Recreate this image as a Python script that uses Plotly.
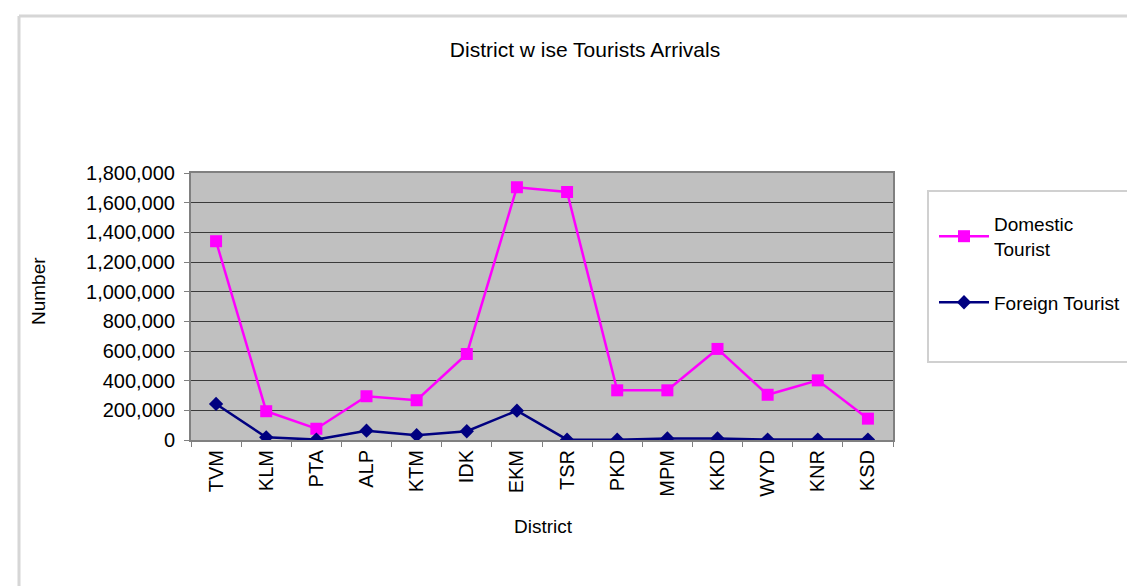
import plotly.graph_objects as go

districts = ["TVM", "KLM", "PTA", "ALP", "KTM", "IDK", "EKM", "TSR", "PKD", "MPM", "KKD", "WYD", "KNR", "KSD"]
domestic = [1340000, 194000, 76000, 295000, 268000, 580000, 1704000, 1672000, 335000, 335000, 614000, 305000, 402000, 144000]
foreign = [243000, 18000, 3000, 63000, 32000, 59000, 198000, 2000, 2000, 10000, 10000, 3000, 3000, 3000]

W, H = 1135, 586
L, R, T, B = 183, 885, 165, 432
pw, ph = R - L, B - T

def px(x):
    return (x - L) / pw

def py(y):
    return (B - y) / ph

FONT = "Liberation Sans, Arial, sans-serif"

fig = go.Figure()
fig.add_trace(go.Scatter(
    x=districts, y=domestic, name="Domestic<br>Tourist", mode="lines+markers",
    line=dict(color="#ff00ff", width=2.5),
    marker=dict(symbol="square", size=12, color="#ff00ff"),
    legendgroup="a",
))
fig.add_trace(go.Scatter(
    x=districts, y=foreign, name="Foreign Tourist", mode="lines+markers",
    line=dict(color="#000080", width=2.5),
    marker=dict(symbol="diamond", size=11, color="#000080"),
    legendgroup="b",
))

shapes = [
    # outer chart frame (left and top edges)
    dict(type="line", xref="paper", yref="paper", x0=px(11), x1=px(11), y0=py(8), y1=py(600),
         line=dict(color="#d6d6d6", width=3)),
    dict(type="line", xref="paper", yref="paper", x0=px(11), x1=px(1140), y0=py(8), y1=py(8),
         line=dict(color="#d6d6d6", width=3)),
    # legend box
    dict(type="rect", xref="paper", yref="paper", x0=px(920), x1=px(1145), y0=py(183), y1=py(354),
         line=dict(color="#d0d0d0", width=2), fillcolor="white", layer="below"),
]

annotations = [
    dict(text="Number", xref="paper", yref="paper", x=px(30), y=py(283), showarrow=False,
         textangle=-90, font=dict(size=19, color="black", family=FONT), xanchor="center", yanchor="middle"),
    dict(text="District", xref="paper", yref="paper", x=px(535), y=py(518), showarrow=False,
         font=dict(size=19, color="black", family=FONT), xanchor="center", yanchor="middle"),
]

fig.update_layout(
    width=W, height=H,
    margin=dict(l=L, r=W - R, t=T, b=H - B, pad=0),
    paper_bgcolor="white",
    plot_bgcolor="#c0c0c0",
    font=dict(family=FONT, size=19, color="black"),
    title=dict(text="District w ise Tourists Arrivals", x=px(577), xref="paper", xanchor="center",
               y=1 - 42 / H, yanchor="middle", font=dict(size=21, family=FONT, color="black")),
    showlegend=True,
    legend=dict(x=px(926), y=py(197), xanchor="left", yanchor="top", bgcolor="rgba(0,0,0,0)",
                borderwidth=0, font=dict(size=19, family=FONT, color="black"),
                tracegroupgap=26, traceorder="grouped", itemwidth=50),
    shapes=shapes,
    annotations=annotations,
)

fig.update_xaxes(
    type="category", range=[-0.5, 13.5], tickangle=-90, showgrid=False,
    ticks="outside", tickson="boundaries", ticklen=5, tickcolor="#808080",
    showline=True, linecolor="#808080", linewidth=2, mirror=True,
    tickfont=dict(size=20, family=FONT, color="black"),
)
fig.update_yaxes(
    range=[0, 1800000], dtick=200000, tickformat=",", showgrid=True,
    gridcolor="#3a3a3a", gridwidth=1, zeroline=False,
    ticks="outside", ticklen=5, tickcolor="#808080", ticklabelstandoff=5,
    showline=True, linecolor="#808080", linewidth=2, mirror=True,
    tickfont=dict(size=20, family=FONT, color="black"),
)

fig.write_html("out.html")
